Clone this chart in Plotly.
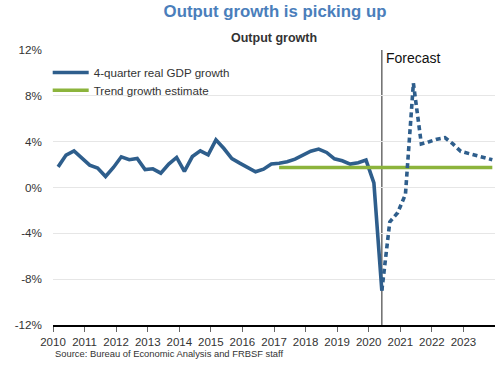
import plotly.graph_objects as go
import pandas as pd

# ---- data ----
actual_start = "2010-03-01"   # Q1 2010 (plotted at last month of quarter)
actual_growth = [1.8, 2.83, 3.2, 2.6, 1.95, 1.7, 0.96, 1.75,
                 2.68, 2.42, 2.53, 1.57, 1.63, 1.25, 2.04, 2.62,
                 1.4, 2.7, 3.2, 2.85, 4.16, 3.4, 2.53, 2.13,
                 1.75, 1.37, 1.6, 2.05, 2.12, 2.24, 2.47, 2.85,
                 3.17, 3.35, 3.06, 2.5, 2.33, 2.04, 2.16, 2.39,
                 0.4, -9.0]
forecast_start = "2020-06-01"  # Q2 2020
forecast_growth = [-9.0, -3.0, -2.2, -0.6, 9.1, 3.8, 4.0, 4.22,
                   4.35, 3.8, 3.15, 2.97, 2.8, 2.6, 2.42]
trend_start = "2017-03-01"
trend_end = "2023-12-01"
trend_value = 1.75
forecast_marker = "2020-06-01"
year_ticks = list(range(2010, 2024))
y_ticks = [-12, -8, -4, 0, 4, 8, 12]

actual_x = pd.date_range(actual_start, periods=len(actual_growth), freq="3MS")
forecast_x = pd.date_range(forecast_start, periods=len(forecast_growth), freq="3MS")

FONT = "Arial, Liberation Sans, sans-serif"
BLUE = "#2E5E8C"
GREEN = "#8CB43C"

fig = go.Figure()
fig.add_trace(go.Scatter(x=actual_x, y=actual_growth, mode="lines",
                         name="4-quarter real GDP growth", legend="legend",
                         line=dict(color=BLUE, width=3.6)))
fig.add_trace(go.Scatter(x=[trend_start, trend_end], y=[trend_value, trend_value],
                         mode="lines", name="Trend growth estimate", legend="legend2",
                         line=dict(color=GREEN, width=3.6)))
fig.add_trace(go.Scatter(x=forecast_x, y=forecast_growth, mode="lines",
                         showlegend=False,
                         line=dict(color=BLUE, width=3.6, dash="5px,3.5px")))

fig.add_shape(type="line", xref="x", yref="y",
              x0=forecast_marker, x1=forecast_marker, y0=-12, y1=12,
              line=dict(color="#555555", width=1.3), layer="below")
fig.add_annotation(text="Forecast", xref="x", yref="paper",
                   x=forecast_marker, y=1, xanchor="left", yanchor="top",
                   xshift=2, yshift=2, showarrow=False,
                   font=dict(family=FONT, size=14, color="#111111"))

legend_common = dict(x=-0.012, xanchor="left", yanchor="top",
                     bgcolor="rgba(0,0,0,0)", itemwidth=36,
                     font=dict(family=FONT, size=11.6, color="#333333"))

fig.update_layout(
    width=500, height=365,
    margin=dict(l=53, r=5, t=50, b=40, autoexpand=False),
    paper_bgcolor="white", plot_bgcolor="white",
    title=dict(text="<b>Output growth is picking up</b>",
               x=0.55, xanchor="center", y=0.97, yanchor="middle",
               font=dict(family=FONT, size=16.8, color="#4A7EBB")),
    showlegend=True,
    legend=dict(y=0.971, **legend_common),
    legend2=dict(y=0.9065, **legend_common),
    xaxis=dict(type="date", automargin=False,
               range=["2010-01-01", "2024-01-01"],
               tickvals=[f"{y}-01-01" for y in year_ticks],
               ticktext=[str(y) for y in year_ticks],
               ticks="outside", ticklen=5, tickcolor="#666666", tickwidth=1,
               showline=True, linecolor="#000000", linewidth=2,
               showgrid=False, zeroline=False,
               tickfont=dict(family=FONT, size=11.5, color="#333333")),
    yaxis=dict(range=[-12, 12], tickvals=y_ticks, automargin=False,
               ticktext=[f"{v}%" for v in y_ticks],
               showgrid=True, gridcolor="#E6E6E6", gridwidth=1,
               zeroline=False, showline=False, ticks="",
               ticklabelstandoff=10,
               tickfont=dict(family=FONT, size=11.7, color="#333333")),
)

fig.add_annotation(text="<b>Output growth</b>", xref="paper", yref="paper",
                   x=0.5, y=1, yanchor="bottom", yshift=3, showarrow=False,
                   font=dict(family=FONT, size=12.5, color="#333333"))
fig.add_annotation(text="Source: Bureau of Economic Analysis and FRBSF staff",
                   xref="paper", yref="paper", x=0, y=0, xanchor="left",
                   yanchor="middle", yshift=-28, showarrow=False,
                   font=dict(family=FONT, size=9.4, color="#333333"))

fig.write_html("out.html", config={"displayModeBar": False},
               post_script="document.body.style.margin='0';document.body.style.overflow='hidden';")
